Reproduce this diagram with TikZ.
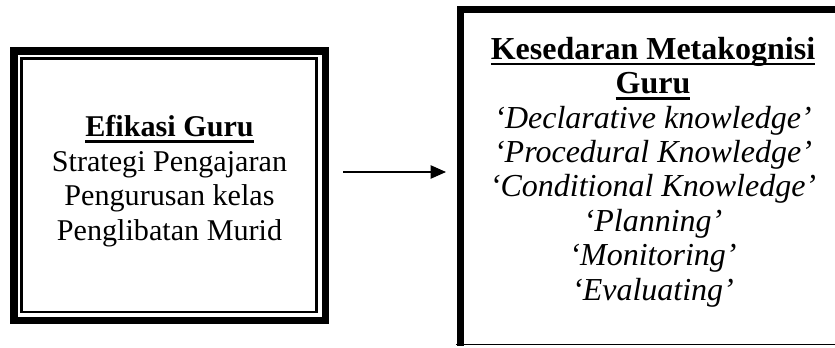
\documentclass[tikz,border=0pt]{standalone}
\usepackage{fontspec}
\setmainfont{Liberation Serif}
\usetikzlibrary{arrows.meta}
\newcommand{\myuline}[1]{\setbox0\hbox{#1}\rlap{\rule[-4.6pt]{\wd0}{2.1pt}}\box0}
\begin{document}
\begin{tikzpicture}[x=0.75pt,y=-0.75pt,
  boxtext/.style={align=center,font=\fontsize{24}{25.8}\selectfont,inner sep=0pt},
  lefttextstyle/.style={align=center,font=\fontsize{22.6}{25.9}\selectfont,inner sep=0pt},
  thickframe/.style={draw=black,line width=5.6pt},
  thinframe/.style={draw=black,line width=2.2pt},
  link/.style={draw=black,line width=0.9pt,-{Triangle[length=11.5pt,width=10pt]}}]
\useasboundingbox (0,0) rectangle (835,347);
% left box
\node[thickframe,minimum width=233.6pt,minimum height=202.1pt,outer sep=0pt] (leftbox) at (169.5,185.5) {};
\draw[thinframe] ([shift={(7.75,7.75)}]leftbox.north west) rectangle ([shift={(-8.75,-8.25)}]leftbox.south east);
\node[lefttextstyle] (lefttext) at (169.5,181) {\myuline{\textbf{Efikasi Guru}}\\Strategi Pengajaran\\Pengurusan kelas\\Penglibatan Murid};
% right box
\coordinate (rbl) at (460.5,344.5);
\coordinate (rtl) at (460.5,9.5);
\coordinate (rtr) at (860,9.5);
\coordinate (rbr) at (860,344.5);
\draw[line width=5.25pt] ([yshift=-1pt]rbl) -- (rtl) -- (rtr);
\draw[line width=1.2pt] ([xshift=-3.5pt]rbl) -- (rbr);
\node[boxtext] (righttext) at (653,172) {\myuline{\textbf{Kesedaran Metakognisi}}\\\myuline{\textbf{Guru}}\\\textit{‘Declarative knowledge’}\\\textit{‘Procedural Knowledge’}\\\textit{‘Conditional Knowledge’}\\\textit{‘Planning’}\\\textit{‘Monitoring’}\\\textit{‘Evaluating’}};
% arrow
\coordinate (astart) at (343,172);
\coordinate (aend) at (446,172);
\draw[link] (astart) -- (aend);
\end{tikzpicture}
\end{document}
